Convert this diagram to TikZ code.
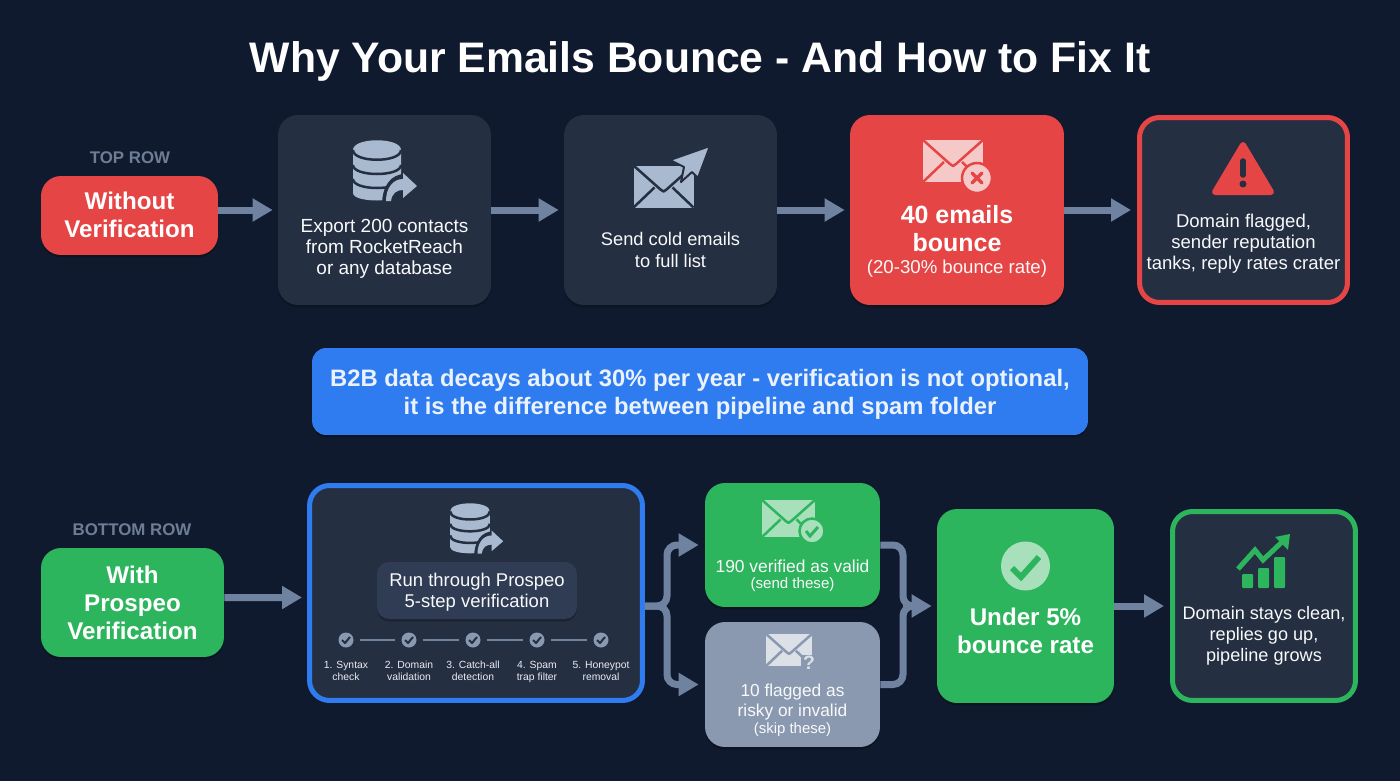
\documentclass[tikz,border=0pt]{standalone}
\usepackage{fontspec}
\setmainfont{Liberation Sans}
\usepackage{xcolor}
\usetikzlibrary{arrows.meta,positioning,calc,shadows}
\definecolor{bgnavy}{HTML}{101A2E}
\definecolor{cardgray}{HTML}{252F42}
\definecolor{labelslate}{HTML}{2F3C54}
\definecolor{flowgray}{HTML}{6F82A0}
\definecolor{iconblue}{HTML}{A9B9CF}
\definecolor{alertred}{HTML}{E64545}
\definecolor{okgreen}{HTML}{2DB55D}
\definecolor{noteblue}{HTML}{2F7BF0}
\definecolor{paleblue}{HTML}{8A99B0}
\definecolor{palered}{HTML}{F6C9C9}
\definecolor{palegreen}{HTML}{A8E0BC}
\definecolor{rowlabel}{HTML}{6E7D95}
\newcommand{\pxfont}[2]{\fontsize{#1}{#2}\selectfont}

\begin{document}
\begin{tikzpicture}[
  x=0.02cm, y=-0.02cm,
  card/.style={rounded corners=0.4cm, inner sep=0pt, minimum width=#1,
    drop shadow={shadow xshift=0cm, shadow yshift=-0.05cm, opacity=0.22, fill=black}},
  rowtag/.style={font=\pxfont{9.6}{12}\bfseries\selectfont, text=rowlabel},
  bodytxt/.style={font=\pxfont{10.4}{12}\selectfont, text=white!92!iconblue, align=center},
  leadtxt/.style={font=\pxfont{13.75}{16}\bfseries\selectfont, text=white, align=center},
  minitxt/.style={font=\pxfont{5.9}{6.9}\selectfont, text=white!75!iconblue, align=center, anchor=north},
  flow/.style={draw=flowgray, line width=0.14cm, -{Triangle[length=0.4cm,width=0.44cm]}},
  branch/.style={flow, rounded corners=0.2cm},
  trunk/.style={draw=flowgray, line width=0.14cm, rounded corners=0.2cm},
  pics/dbicon/.style={code={
    \fill[iconblue] (-24,-20) -- (-24,23) .. controls (-24,33) and (24,33) .. (24,23)
      -- (24,-20) .. controls (24,-33) and (-24,-33) .. (-24,-20) -- cycle;
    \draw[cardgray, line width=0.05cm] (-24,-20) .. controls (-24,-7) and (24,-7) .. (24,-20);
    \draw[cardgray, line width=0.05cm] (-24,-5) .. controls (-24,7) and (24,7) .. (24,-5);
    \draw[cardgray, line width=0.05cm] (-24,9) .. controls (-24,21) and (24,21) .. (24,9);
    \fill[cardgray] (5,35) .. controls (5,16) and (14,4) .. (28,4) -- (30,35) -- cycle;
    \fill[iconblue] (9,31) .. controls (9,18) and (16,9) .. (26,9)
      -- (26,3) -- (40,16) -- (26,28) -- (26,20) .. controls (20,20) and (15,23) .. (14,31) -- cycle;
  }},
  pics/mailicon/.style 2 args={code={
    \fill[#1] (-30,-21) rectangle (30,21);
    \draw[#2, line width=0.05cm, line join=round] (-30,-21) -- (-3,3) -- (0,5) -- (3,3) -- (30,-21);
    \draw[#2, line width=0.05cm] (-30,21) -- (-9,1) (30,21) -- (9,1);
  }}
]
  % backdrop
  \fill[bgnavy] (0,0) rectangle (1400,781);
  \useasboundingbox (0,0) rectangle (1400,781);

  \node[font=\pxfont{24.3}{30}\bfseries\selectfont, text=white] (title) at (700,61)
    {Why Your Emails Bounce - And How to Fix It};

  % without verification (top)
  \node[rowtag] (toptag) at (130,158) {TOP ROW};
  \node[card=3.54cm, minimum height=1.58cm, fill=alertred] (without) at (129.5,215.5) {};
  \node[leadtxt] (withouttxt) at (129.5,215) {Without\\Verification};

  \node[card=4.26cm, minimum height=3.8cm, fill=cardgray] (export) at (384.5,210) {};
  \pic (exportdb) at (377,170) {dbicon};
  \node[bodytxt, font=\pxfont{10.8}{11.8}\selectfont] (exporttxt) at (384.5,249) {Export 200 contacts\\from RocketReach\\or any database};

  \node[card=4.26cm, minimum height=3.8cm, fill=cardgray] (send) at (670.5,210) {};
  \pic (sendmail) at (663.5,186.5) {mailicon={iconblue}{cardgray}};
  \fill[iconblue, draw=cardgray, line width=0.04cm, line join=round] (710,146) -- (670,160) -- (684,167)
    -- (681,182) -- (692,172) -- (698,178) -- cycle;
  \node[bodytxt] (sendtxt) at (670.5,250) {Send cold emails\\to full list};

  \node[card=4.28cm, minimum height=3.8cm, fill=alertred] (bounce) at (957,210) {};
  \pic (bouncemail) at (953,161) {mailicon={palered}{alertred}};
  \node[circle, fill=palered, draw=alertred, line width=0.05cm, minimum size=0.6cm, inner sep=0pt] (bouncebadge) at (977,178) {};
  \draw[alertred, line width=0.07cm, line cap=round] (972,173) -- (982,183) (982,173) -- (972,183);
  \node[leadtxt, font=\pxfont{14.2}{16}\bfseries\selectfont] (bouncetxt) at (957,229) {40 emails\\bounce};
  \node[bodytxt, font=\pxfont{10.6}{12}\selectfont] (bouncesub) at (957,269) {(20-30\% bounce rate)};

  \node[card=4.16cm, minimum height=3.7cm, fill=cardgray, draw=alertred, line width=0.1cm] (flagged) at (1243.5,210) {};
  \fill[alertred, draw=alertred, line width=0.12cm, line join=round] (1243,145) -- (1215,192) -- (1271,192) -- cycle;
  \draw[cardgray, line width=0.11cm, line cap=round] (1243,161) -- (1243,175);
  \fill[cardgray] (1243,184) circle (0.07cm);
  \node[bodytxt, font=\pxfont{10.55}{12.1}\selectfont] (flaggedtxt) at (1243.5,243.5) {Domain flagged,\\sender reputation\\tanks, reply rates crater};

  \draw[flow] (without.east |- export.west) -- ([xshift=-0.1cm]export.west);
  \draw[flow] (export.east) -- ([xshift=-0.1cm]send.west);
  \draw[flow] (send.east) -- ([xshift=-0.1cm]bounce.west);
  \draw[flow] (bounce.east) -- ([xshift=-0.12cm]flagged.west);

  % callout
  \node[card=15.52cm, minimum height=1.74cm, fill=noteblue, rounded corners=0.28cm] (note) at (700,391.5) {};
  \node[font=\pxfont{13.55}{16}\bfseries\selectfont, text=white!90!noteblue, align=center] (notetxt) at (700,394)
    {B2B data decays about 30\% per year - verification is not optional,\\it is the difference between pipeline and spam folder};

  % with verification (bottom)
  \node[rowtag] (bottomtag) at (132,530) {BOTTOM ROW};
  \node[card=3.66cm, minimum height=2.18cm, fill=okgreen] (with) at (132.5,602.5) {};
  \node[leadtxt] (withtxt) at (132.5,603) {With\\Prospeo\\Verification};

  \node[card=6.66cm, minimum height=4.3cm, fill=cardgray, draw=noteblue, line width=0.1cm] (run) at (476,593) {};
  \pic[scale=0.83] (rundb) at (470,528) {dbicon};
  \node[card=4cm, minimum height=1.14cm, fill=labelslate, rounded corners=0.24cm] (runlabel) at (477,590.5) {};
  \node[bodytxt, font=\pxfont{10.5}{11.9}\selectfont] (runtxt) at (477,592) {Run through Prospeo\\5-step verification};

  \foreach \cx/\name/\lineone/\linetwo in {346/syntax/1. Syntax/check, 409/domain/2. Domain/validation,
      473/catchall/3. Catch-all/detection, 537/spam/4. Spam/trap filter, 601/honeypot/5. Honeypot/removal} {
    \node[circle, fill=paleblue, minimum size=0.3cm, inner sep=0pt] (\name) at (\cx,640) {};
    \draw[cardgray, line width=0.04cm, line join=round] (\cx-4,640) -- (\cx-1,643) -- (\cx+4,637);
    \node[minitxt] (\name txt) at (\cx,655) {\lineone\\\linetwo};
  }
  \foreach \a/\b in {syntax/domain, domain/catchall, catchall/spam, spam/honeypot}
    \draw[flowgray, line width=0.04cm, shorten <=0.12cm, shorten >=0.12cm] (\a) -- (\b);

  \node[card=3.5cm, minimum height=2.48cm, fill=okgreen] (verified) at (792.5,545) {};
  \pic[scale=0.88] (verifiedmail) at (788.5,518.5) {mailicon={palegreen}{okgreen}};
  \node[circle, fill=palegreen, draw=okgreen, line width=0.05cm, minimum size=0.5cm, inner sep=0pt] (verifiedbadge) at (812,531) {};
  \draw[okgreen, line width=0.06cm] (806,531) -- (810,536) -- (818,527);
  \node[bodytxt, font=\pxfont{9.9}{12}\selectfont] (verifiedtxt) at (792.5,566) {190 verified as valid};
  \node[bodytxt, font=\pxfont{8.6}{10}\selectfont] (verifiedsub) at (792.5,585) {(send these)};

  \node[card=3.5cm, minimum height=2.5cm, fill=paleblue] (risky) at (792.5,684.5) {};
  \pic[scale=0.77] (riskymail) at (789,650) {mailicon={white!70!paleblue}{paleblue}};
  \node[font=\pxfont{11}{12}\bfseries\selectfont, text=white!70!paleblue, fill=paleblue, inner sep=1pt] (riskymark) at (809,663) {?};
  \node[bodytxt, font=\pxfont{9.85}{11.6}\selectfont] (riskytxt) at (792.5,702) {10 flagged as\\risky or invalid};
  \node[bodytxt, font=\pxfont{8.5}{10}\selectfont] (riskysub) at (792.5,730) {(skip these)};

  \node[card=3.54cm, minimum height=3.88cm, fill=okgreen] (under) at (1025.5,606) {};
  \node[circle, fill=palegreen, minimum size=0.98cm, inner sep=0pt] (underbadge) at (1025.5,566) {};
  \draw[okgreen, line width=0.12cm] (1012,568) -- (1021,577) -- (1039,557);
  \node[leadtxt] (undertxt) at (1025.5,631) {Under 5\%\\bounce rate};

  \node[card=3.66cm, minimum height=3.78cm, fill=cardgray, draw=okgreen, line width=0.1cm] (clean) at (1264,606) {};
  \fill[okgreen, rounded corners=0.02cm] (1242,574) rectangle (1253,588) (1258,568) rectangle (1269,588) (1274,557) rectangle (1285,588);
  \draw[okgreen, line width=0.1cm] (1238,569) -- (1255,550) -- (1263,560) -- (1283,541);
  \fill[okgreen] (1290,534) -- (1275,537) -- (1288,550) -- cycle;
  \node[bodytxt, font=\pxfont{10.3}{12.1}\selectfont] (cleantxt) at (1264,636) {Domain stays clean,\\replies go up,\\pipeline grows};

  \draw[flow] ([yshift=0.1cm]with.east) -- ([xshift=-0.1cm,yshift=-0.09cm]run.west);
  \coordinate (split) at (667,606);
  \coordinate (merge) at (903,606);
  \draw[branch] ([yshift=-0.26cm]run.east) -- (split) |- ([xshift=-0.12cm]verified.west);
  \draw[branch] ([yshift=-0.26cm]run.east) -- (split) |- ([xshift=-0.12cm]risky.west);
  \draw[trunk] (verified.east) -| (merge) -- ([xshift=-0.4cm]under.west);
  \draw[trunk] (risky.east) -| (merge) -- ([xshift=-0.4cm]under.west);
  \draw[flow] (merge) -- ([xshift=-0.1cm]under.west);
  \draw[flow] (under.east) -- ([xshift=-0.12cm]clean.west);
\end{tikzpicture}
\end{document}
